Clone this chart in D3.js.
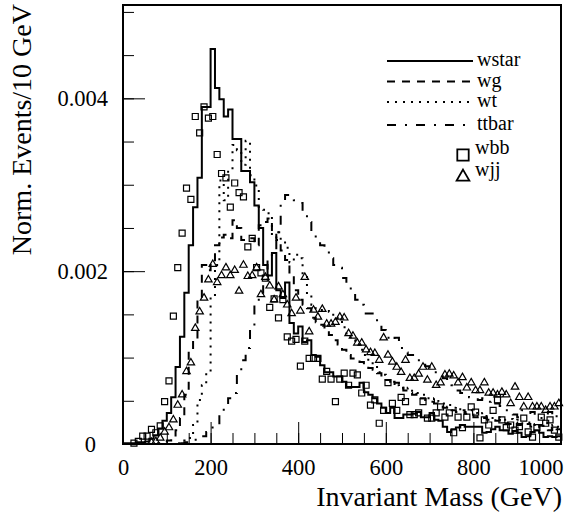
<!DOCTYPE html>
<html>
<head>
<meta charset="utf-8">
<script src="https://cdn.jsdelivr.net/npm/d3@7"></script>
<style>
  body { margin: 0; background: white; }
  svg { display: block; font-family: 'Liberation Serif', 'DejaVu Serif', serif; }
</style>
</head>
<body>
<div id="graf"></div>
<script>
// Masa invariante normalizada, bins de 10 GeV entre 0 y 1000
// (valores en unidades de 1e-3)

bordes = d3.range(0, 1000, 10)

wstar = [0.01,0.01,0.01,0.02,0.02,0.03,0.06,0.10,0.18,0.27,
         0.36,0.54,0.89,1.24,1.75,2.30,2.74,3.08,3.90,3.90,
         4.57,4.12,3.99,3.79,3.87,3.53,3.53,3.16,3.16,3.03,
         2.76,2.50,2.07,1.95,2.21,1.78,1.69,1.87,1.40,1.28,
         1.36,1.18,1.20,1.03,1.01,0.91,0.83,0.83,0.78,0.78,
         0.72,0.66,0.66,0.66,0.71,0.60,0.57,0.53,0.47,0.42,
         0.36,0.42,0.30,0.30,0.34,0.34,0.35,0.37,0.31,0.31,
         0.36,0.28,0.27,0.20,0.14,0.17,0.19,0.22,0.20,0.20,
         0.20,0.20,0.13,0.14,0.17,0.20,0.16,0.16,0.12,0.15,
         0.13,0.08,0.09,0.14,0.16,0.13,0.08,0.09,0.08,0.09]

wg = [0,0,0,0,0,0,0,0,0.01,0.02,
      0.04,0.07,0.16,0.30,0.57,1.09,1.20,1.67,2.07,2.01,
      2.10,2.30,2.39,2.42,2.38,2.59,2.50,2.36,2.36,2.38,
      2.30,2.53,2.57,2.61,2.45,2.36,2.24,2.13,1.95,1.78,
      1.67,1.61,1.57,1.46,1.41,1.38,1.32,1.26,1.20,1.15,
      1.09,1.03,0.99,0.97,0.95,0.91,0.88,0.86,0.82,0.76,
      0.74,0.68,0.71,0.65,0.62,0.59,0.57,0.58,0.53,0.51,
      0.49,0.47,0.45,0.42,0.43,0.39,0.37,0.39,0.35,0.34,
      0.31,0.32,0.30,0.28,0.29,0.27,0.28,0.24,0.23,0.25,
      0.22,0.21,0.23,0.20,0.19,0.21,0.19,0.16,0.20,0.17]

wt = [0,0,0,0,0,0,0,0,0,0,
      0,0,0.01,0.02,0.04,0.07,0.22,0.51,0.68,0.82,
      1.70,2.07,3.05,2.82,3.17,3.46,3.40,3.23,3.51,3.11,
      2.99,2.73,2.71,2.67,2.39,2.45,2.36,2.27,2.10,2.19,
      2.15,1.95,1.72,1.61,1.57,1.55,1.55,1.53,1.46,1.43,
      1.35,1.28,1.20,1.15,1.09,1.03,0.95,0.91,0.83,0.80,
      0.74,0.72,0.68,0.65,0.62,0.65,0.60,0.59,0.57,0.53,
      0.51,0.53,0.49,0.47,0.45,0.42,0.43,0.39,0.37,0.39,
      0.36,0.34,0.36,0.32,0.30,0.31,0.30,0.28,0.29,0.27,
      0.28,0.24,0.25,0.22,0.23,0.22,0.24,0.21,0.22,0.20]

ttbar = [0,0,0,0,0,0,0,0,0,0,
         0,0,0,0.01,0.02,0.03,0.05,0.07,0.09,0.14,
         0.19,0.22,0.34,0.45,0.53,0.59,0.81,0.97,1.11,1.35,
         1.61,1.75,1.90,2.13,2.19,2.45,2.82,2.88,2.84,2.82,
         2.79,2.65,2.57,2.42,2.38,2.30,2.28,2.15,2.07,2.04,
         1.92,1.84,1.78,1.67,1.61,1.51,1.51,1.46,1.41,1.32,
         1.23,1.20,1.23,1.11,1.06,1.03,1.03,0.97,0.93,0.90,
         0.86,0.83,0.80,0.76,0.71,0.68,0.62,0.59,0.57,0.54,
         0.53,0.51,0.53,0.49,0.51,0.47,0.44,0.39,0.37,0.34,
         0.31,0.39,0.36,0.37,0.32,0.30,0.34,0.37,0.30,0.39]

wbb = [0,0,0.01,0.03,0.09,0.09,0.17,0.13,0.21,0.49,
       0.73,1.48,2.04,2.44,2.96,2.83,3.79,3.60,3.90,3.77,
       3.79,3.35,3.13,3.08,2.74,3.02,2.91,2.86,2.28,2.38,
       2.04,1.98,1.92,1.58,1.68,1.46,1.67,1.24,1.19,1.21,
       0.90,1.19,0.99,0.99,0.99,0.75,0.84,0.75,0.49,0.75,
       0.82,0.68,0.82,0.80,0.59,0.68,0.45,0.51,0.24,0.39,
       0.71,0.47,0.39,0.54,0.49,0.34,0.34,0.36,0.49,0.30,
       0.30,0.36,0.43,0.31,0.36,0.13,0.31,0.19,0.31,0.43,
       0.37,0.07,0.28,0.22,0.39,0.51,0.28,0.19,0.22,0.16,
       0.20,0.30,0.14,0.08,0.19,0.31,0.24,0.28,0.16,0.08]

wjj = [0,0,0,0,0,0,0.02,0.03,0.07,0.14,
       0.19,0.28,0.45,0.57,0.84,0.94,1.34,1.53,1.69,1.90,
       2.08,1.87,1.95,2.04,1.95,2.01,1.77,2.07,1.94,1.95,
       2.04,1.73,1.93,1.83,1.67,1.82,1.73,1.61,1.51,1.69,
       1.54,1.93,1.30,1.55,1.47,1.56,1.39,1.39,1.41,1.47,
       1.46,1.28,1.25,1.17,1.17,1.09,1.06,1.05,0.97,1.23,
       1.03,0.95,0.89,0.83,0.97,0.76,0.76,0.81,0.89,0.74,
       0.89,0.68,0.71,0.80,0.81,0.79,0.71,0.77,0.65,0.71,
       0.62,0.62,0.71,0.59,0.59,0.57,0.60,0.57,0.47,0.66,
       0.54,0.43,0.54,0.43,0.43,0.43,0.39,0.43,0.43,0.47]

xTicks      = [0, 200, 400, 600, 800, 1000]
xTicksMenor = d3.range(0, 1001, 50)
yTicks      = [0, 0.002, 0.004]
yTickLabels = ['0', '0.002', '0.004']
yTicksMenor = d3.range(0, 0.0051, 0.0005)

histos = [
  { nombre: 'wstar', valores: wstar, dash: null },
  { nombre: 'wg',    valores: wg,    dash: '8,7' },
  { nombre: 'wt',    valores: wt,    dash: '2,6' },
  { nombre: 'ttbar', valores: ttbar, dash: '9,9,2,9' }
]
marcas = [
  { nombre: 'wbb', valores: wbb, simbolo: d3.symbolSquare },
  { nombre: 'wjj', valores: wjj, simbolo: d3.symbolTriangle }
]

ancho_total = 585
alto_total  = 518
margins = { top: 5, left: 123, right: 24, bottom: 74 }
ancho = ancho_total - margins.left - margins.right
alto  = alto_total - margins.top - margins.bottom

svg = d3.select('#graf').append('svg')
        .attr('width', ancho_total)
        .attr('height', alto_total)

g = svg.append('g')
       .attr('transform', `translate(${ margins.left }, ${ margins.top })`)

// Escaladores
x = d3.scaleLinear().domain([0, 1000]).range([0, ancho])
y = d3.scaleLinear().domain([0, 0.00508]).range([alto, 0])

// Ticks hacia adentro
g.append('g')
  .attr('transform', `translate(0,${alto})`)
  .call(d3.axisBottom(x).tickValues(xTicksMenor).tickFormat('').tickSize(-11))
ejeX = g.append('g')
  .attr('transform', `translate(0,${alto})`)
  .call(d3.axisBottom(x).tickValues(xTicks).tickSize(-22).tickPadding(15)
          .tickFormat(d3.format('d')))
g.append('g')
  .call(d3.axisLeft(y).tickValues(yTicksMenor).tickFormat('').tickSize(-11))
ejeY = g.append('g')
  .call(d3.axisLeft(y).tickValues(yTicks).tickSize(-22).tickPadding(15)
          .tickFormat((d, i) => yTickLabels[i]))

g.selectAll('.domain').remove()
g.selectAll('.tick line').attr('stroke', 'black').attr('stroke-width', 1)
g.selectAll('.tick text')
  .attr('fill', 'black')
  .attr('font-family', 'Liberation Serif')
  .attr('font-size', '22.5px')

// el ultimo label no se sale del marco, el "0" va mas a la izquierda
ejeX.selectAll('.tick text').filter(d => d == 1000)
  .attr('text-anchor', 'end').attr('dx', 2)
ejeY.selectAll('.tick text').filter(d => d == 0)
  .attr('dx', -12)

// Histogramas
linea = d3.line()
          .x(d => x(d[0]))
          .y(d => y(d[1]))
          .curve(d3.curveStepAfter)

histos.forEach(h => {
  pts = bordes.map((b, i) => [b, h.valores[i] * 1e-3])
  pts.push([1000, h.valores[h.valores.length - 1] * 1e-3])
  g.append('path')
    .attr('d', linea(pts))
    .attr('fill', 'none')
    .attr('stroke', 'black')
    .attr('stroke-width', 2)
    .attr('stroke-dasharray', h.dash)
})

// Puntos
marcas.forEach(m => {
  area = m.simbolo == d3.symbolSquare ? 36 : 24
  g.selectAll(null)
    .data(bordes.map((b, i) => [b + 5, m.valores[i] * 1e-3]).filter(d => d[1] > 0))
    .enter()
    .append('path')
      .attr('d', d3.symbol(m.simbolo, area))
      .attr('transform', d => `translate(${ x(d[0]) }, ${ y(d[1]) })`)
      .attr('fill', 'none')
      .attr('stroke', 'black')
      .attr('stroke-width', 1.2)
})

// Marco
g.append('rect')
  .attr('width', ancho)
  .attr('height', alto)
  .attr('fill', 'none')
  .attr('stroke', 'black')
  .attr('stroke-width', 2)

// Titulos
svg.append('text')
  .attr('x', margins.left + ancho + 1)
  .attr('y', 506)
  .attr('text-anchor', 'end')
  .attr('font-size', '28px')
  .text('Invariant Mass (GeV)')

svg.append('text')
  .attr('transform', `translate(31, ${ margins.top - 1 }) rotate(-90)`)
  .attr('text-anchor', 'end')
  .attr('font-size', '28px')
  .text('Norm. Events/10 GeV')

// Leyenda
ley = svg.append('g')
filas = [61, 81.5, 102, 125, 154, 176]

histos.forEach((h, i) => {
  ley.append('line')
    .attr('x1', 387).attr('x2', 473)
    .attr('y1', filas[i]).attr('y2', filas[i])
    .attr('stroke', 'black')
    .attr('stroke-width', 2)
    .attr('stroke-dasharray', h.dash)
  ley.append('text')
    .attr('x', 477)
    .attr('y', filas[i] + 5)
    .attr('font-size', '20px')
    .text(h.nombre)
})

marcas.forEach((m, i) => {
  fila = filas[histos.length + i]
  ley.append('path')
    .attr('d', d3.symbol(m.simbolo, m.simbolo == d3.symbolSquare ? 130 : 70))
    .attr('transform', `translate(463, ${ fila + 1 })`)
    .attr('fill', 'none')
    .attr('stroke', 'black')
    .attr('stroke-width', 1.8)
  ley.append('text')
    .attr('x', 475)
    .attr('y', fila)
    .attr('font-size', '20px')
    .text(m.nombre)
})
</script>
</body>
</html>
